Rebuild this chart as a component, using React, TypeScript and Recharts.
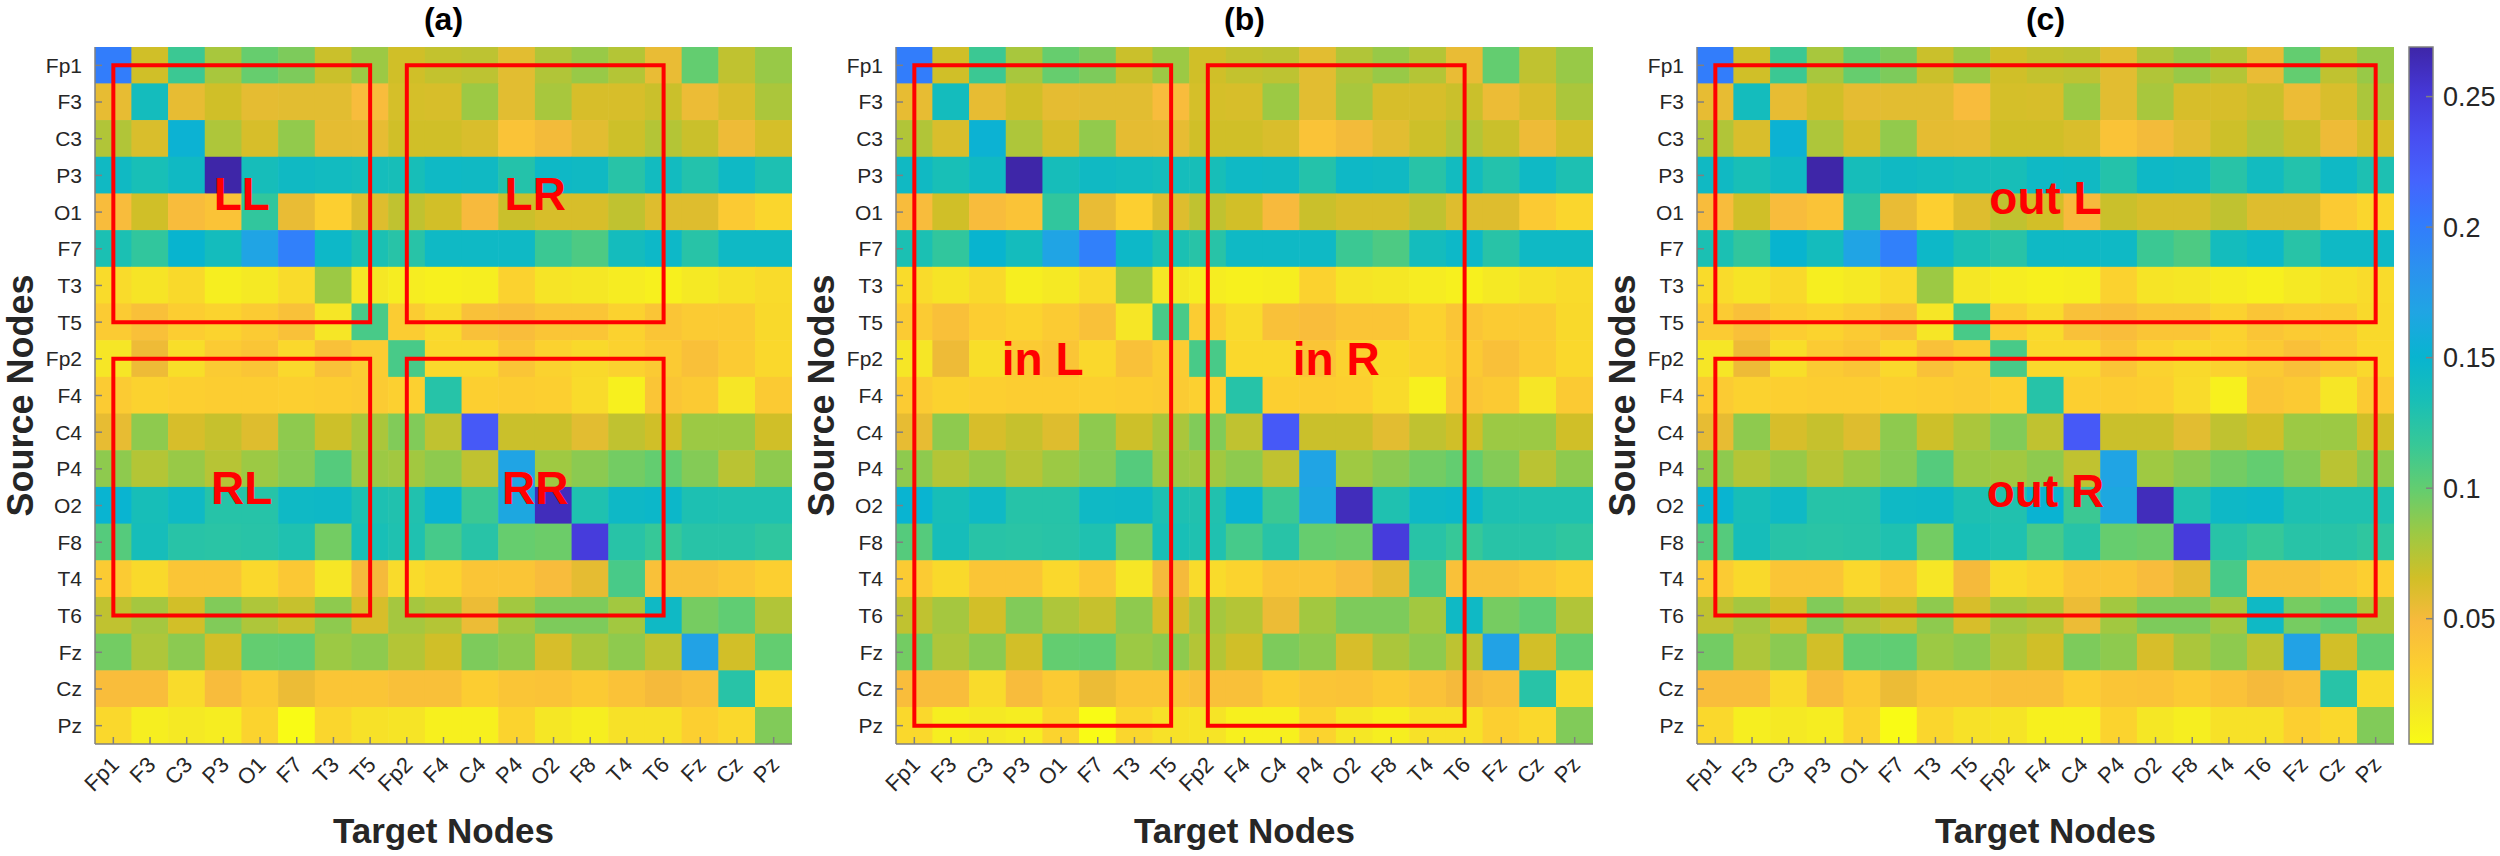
import React from 'react';
import { ScatterChart, Scatter, XAxis, YAxis, ReferenceArea, ReferenceDot } from 'recharts';

const NODES = ['Fp1', 'F3', 'C3', 'P3', 'O1', 'F7', 'T3', 'T5', 'Fp2', 'F4', 'C4', 'P4', 'O2', 'F8', 'T4', 'T6', 'Fz', 'Cz', 'Pz'];

// one row per source node, columns follow NODES (target nodes)
const rowFp1 = [0.200, 0.066, 0.115, 0.079, 0.099, 0.092, 0.068, 0.083, 0.066, 0.070, 0.072, 0.058, 0.076, 0.084, 0.075, 0.055, 0.100, 0.071, 0.084];
const rowF3 = [0.056, 0.138, 0.056, 0.066, 0.057, 0.058, 0.058, 0.047, 0.064, 0.063, 0.083, 0.058, 0.079, 0.063, 0.063, 0.068, 0.054, 0.062, 0.078];
const rowC3 = [0.076, 0.062, 0.153, 0.077, 0.063, 0.086, 0.057, 0.056, 0.066, 0.066, 0.062, 0.041, 0.051, 0.058, 0.067, 0.075, 0.068, 0.053, 0.064];
const rowP3 = [0.142, 0.134, 0.142, 0.269, 0.136, 0.142, 0.140, 0.137, 0.135, 0.143, 0.142, 0.127, 0.144, 0.142, 0.125, 0.140, 0.128, 0.143, 0.131];
const rowO1 = [0.047, 0.066, 0.047, 0.041, 0.120, 0.055, 0.032, 0.060, 0.071, 0.065, 0.049, 0.068, 0.063, 0.063, 0.071, 0.060, 0.060, 0.036, 0.027];
const rowF7 = [0.132, 0.120, 0.150, 0.138, 0.168, 0.198, 0.145, 0.132, 0.125, 0.143, 0.143, 0.143, 0.115, 0.108, 0.138, 0.145, 0.125, 0.143, 0.143];
const rowT3 = [0.024, 0.018, 0.025, 0.011, 0.015, 0.024, 0.083, 0.016, 0.012, 0.010, 0.011, 0.030, 0.018, 0.016, 0.013, 0.010, 0.015, 0.020, 0.024];
const rowT5 = [0.035, 0.044, 0.033, 0.029, 0.035, 0.043, 0.017, 0.110, 0.034, 0.024, 0.043, 0.046, 0.040, 0.040, 0.030, 0.040, 0.035, 0.035, 0.025];
const rowFp2 = [0.017, 0.053, 0.022, 0.035, 0.040, 0.026, 0.043, 0.034, 0.110, 0.026, 0.026, 0.040, 0.030, 0.025, 0.030, 0.036, 0.044, 0.035, 0.026];
const rowF4 = [0.035, 0.030, 0.032, 0.033, 0.033, 0.032, 0.033, 0.035, 0.031, 0.126, 0.032, 0.033, 0.032, 0.024, 0.010, 0.040, 0.036, 0.017, 0.036];
const rowC4 = [0.056, 0.087, 0.063, 0.069, 0.060, 0.087, 0.067, 0.078, 0.091, 0.071, 0.226, 0.068, 0.068, 0.058, 0.071, 0.066, 0.083, 0.083, 0.066];
const rowP4 = [0.087, 0.075, 0.084, 0.074, 0.083, 0.089, 0.105, 0.083, 0.081, 0.087, 0.071, 0.168, 0.082, 0.088, 0.095, 0.100, 0.090, 0.073, 0.087];
const rowO2 = [0.151, 0.135, 0.143, 0.126, 0.126, 0.143, 0.144, 0.131, 0.129, 0.152, 0.115, 0.165, 0.262, 0.130, 0.144, 0.146, 0.131, 0.130, 0.130];
const rowF8 = [0.105, 0.136, 0.125, 0.124, 0.125, 0.130, 0.095, 0.134, 0.130, 0.111, 0.125, 0.099, 0.097, 0.248, 0.125, 0.117, 0.125, 0.125, 0.121];
const rowT4 = [0.035, 0.025, 0.040, 0.040, 0.026, 0.037, 0.017, 0.050, 0.024, 0.029, 0.040, 0.040, 0.047, 0.057, 0.110, 0.043, 0.043, 0.038, 0.032];
const rowT6 = [0.071, 0.080, 0.065, 0.091, 0.077, 0.069, 0.087, 0.063, 0.080, 0.075, 0.054, 0.081, 0.092, 0.092, 0.081, 0.143, 0.094, 0.101, 0.076];
const rowFz = [0.095, 0.077, 0.088, 0.065, 0.100, 0.101, 0.083, 0.087, 0.075, 0.066, 0.092, 0.087, 0.063, 0.078, 0.087, 0.072, 0.170, 0.065, 0.100];
const rowCz = [0.046, 0.046, 0.024, 0.047, 0.036, 0.054, 0.040, 0.040, 0.044, 0.044, 0.033, 0.040, 0.041, 0.036, 0.042, 0.050, 0.044, 0.125, 0.024];
const rowPz = [0.026, 0.011, 0.015, 0.012, 0.029, 0.002, 0.027, 0.020, 0.018, 0.010, 0.010, 0.029, 0.016, 0.011, 0.020, 0.020, 0.032, 0.026, 0.091];

const ROWS = [rowFp1, rowF3, rowC3, rowP3, rowO1, rowF7, rowT3, rowT5, rowFp2, rowF4, rowC4, rowP4, rowO2, rowF8, rowT4, rowT6, rowFz, rowCz, rowPz];

const CBAR_TICKS = [0.05, 0.1, 0.15, 0.2, 0.25];
const C_MIN = 0.002;
const C_MAX = 0.269;

// boxes: [x1, x2, y1, y2] in node index units, labels: [text, x, y]
const boxesA = [[1, 8, 1, 8], [9, 16, 1, 8], [1, 8, 9, 16], [9, 16, 9, 16]];
const labelsA: [string, number, number][] = [['LL', 4.5, 4.5], ['LR', 12.5, 4.5], ['RL', 4.5, 12.5], ['RR', 12.5, 12.5]];
const boxesB = [[1, 8, 1, 19], [9, 16, 1, 19]];
const labelsB: [string, number, number][] = [['in L', 4.5, 9], ['in R', 12.5, 9]];
const boxesC = [[1, 19, 1, 8], [1, 19, 9, 16]];
const labelsC: [string, number, number][] = [['out L', 10, 4.6], ['out R', 10, 12.6]];

// flipped parula (t=0 -> high value)
const PARULA: [number, string][] = [
  [0, '#3E26A8'], [0.063, '#4537D5'], [0.127, '#484DF0'], [0.19, '#4563FD'],
  [0.254, '#327CFC'], [0.317, '#2B91EF'], [0.381, '#20A5E3'], [0.444, '#08B4D0'],
  [0.508, '#19BFB6'], [0.571, '#37C897'], [0.635, '#64CD6F'], [0.698, '#9DC943'],
  [0.762, '#D1BF27'], [0.825, '#F8BA3D'], [0.889, '#FCCF30'], [0.952, '#F5E924'],
  [1, '#F9FB15'],
];

const FONT = '"Liberation Sans", Arial, Helvetica, sans-serif';
const TEXT = '#262626';
const AXIS = '#808080';
const PLOT = 697;
const CELL = PLOT / 19;
const TICKS = NODES.map((_, i) => i + 1);

const hexRgb = (h: string) => [1, 3, 5].map((k) => parseInt(h.slice(k, k + 2), 16));

function parula(t: number) {
  const tt = Math.max(0, Math.min(1, t));
  for (let i = 1; i < PARULA.length; i++) {
    const [t1, c1] = PARULA[i];
    if (tt <= t1) {
      const [t0, c0] = PARULA[i - 1];
      const f = (tt - t0) / (t1 - t0);
      const a = hexRgb(c0);
      const b = hexRgb(c1);
      const m = a.map((v, k) => Math.round(v + (b[k] - v) * f));
      return `rgb(${m[0]},${m[1]},${m[2]})`;
    }
  }
  return PARULA[PARULA.length - 1][1];
}

const valueColor = (v: number) => parula((C_MAX - v) / (C_MAX - C_MIN));

const cells = ROWS.flatMap((row, i) => row.map((v, j) => ({ x: j + 1, y: i + 1, v })));
const cbarPoints = CBAR_TICKS.map((y) => ({ x: 0.5, y }));

const CellShape = (props: any) => {
  const { cx, cy, payload } = props;
  if (cx == null || cy == null) return null;
  return (
    <rect
      x={cx - CELL / 2 - 0.3}
      y={cy - CELL / 2 - 0.3}
      width={CELL + 0.6}
      height={CELL + 0.6}
      fill={valueColor(payload.v)}
    />
  );
};

const NoShape = () => <g />;

const XTick = (props: any) => {
  const { x, y, payload } = props;
  const px = x + 7;
  return (
    <text
      x={px}
      y={y}
      transform={`rotate(-45, ${px}, ${y})`}
      textAnchor="end"
      fontSize={22}
      fill={TEXT}
      fontFamily={FONT}
    >
      {NODES[payload.value - 1]}
    </text>
  );
};

const Panel = ({ title, boxes, labels, left }: { title: string; boxes: number[][]; labels: [string, number, number][]; left: number }) => (
  <div style={{ position: 'absolute', left, top: 0 }}>
    <ScatterChart width={801} height={856} margin={{ top: 47, right: 9, bottom: 0, left: 0 }}>
      <Scatter data={cells} dataKey="v" shape={CellShape} isAnimationActive={false} zIndex={10} />
      {/* keeps the mirrored top / right axes bound to the same data */}
      <Scatter data={cells} xAxisId="top" yAxisId="right" shape={NoShape} isAnimationActive={false} zIndex={10} />
      {boxes.map((b, i) => (
        <ReferenceArea
          key={i}
          x1={b[0]}
          x2={b[1]}
          y1={b[2]}
          y2={b[3]}
          fill="none"
          fillOpacity={0}
          stroke="#ff0000"
          strokeWidth={4}
          ifOverflow="visible"
          zIndex={700}
        />
      ))}
      {labels.map(([t, x, y]) => (
        <ReferenceDot
          key={t}
          x={x}
          y={y}
          r={0}
          fill="none"
          stroke="none"
          zIndex={750}
          label={{ value: t, position: 'center', fill: '#ff0000', fontSize: 46, fontWeight: 'bold' }}
        />
      ))}
      <ReferenceDot
        x={10}
        y={0.5}
        r={0}
        fill="none"
        stroke="none"
        ifOverflow="visible"
        zIndex={750}
        label={{ value: title, position: 'top', offset: 17, fill: '#000', fontSize: 32, fontWeight: 'bold' }}
      />
      <XAxis
        dataKey="x"
        type="number"
        domain={[0.5, 19.5]}
        allowDataOverflow
        ticks={TICKS}
        interval={0}
        height={112}
        tickSize={-7}
        tickMargin={29}
        tick={(p: any) => <XTick {...p} />}
        axisLine={{ stroke: AXIS, strokeWidth: 1.5 }}
        tickLine={{ stroke: AXIS, strokeWidth: 1.5 }}
        zIndex={800}
        label={{ value: 'Target Nodes', position: 'insideBottom', offset: 13, fontSize: 35, fontWeight: 'bold', fill: TEXT }}
      />
      <XAxis
        xAxisId="top"
        dataKey="x"
        orientation="top"
        type="number"
        domain={[0.5, 19.5]}
        allowDataOverflow
        ticks={TICKS}
        interval={0}
        height={0}
        tickSize={-7}
        tick={false}
        axisLine={{ stroke: AXIS, strokeWidth: 1.5 }}
        tickLine={{ stroke: AXIS, strokeWidth: 1.5 }}
        zIndex={800}
      />
      <YAxis
        dataKey="y"
        type="number"
        domain={[0.5, 19.5]}
        allowDataOverflow
        reversed
        ticks={TICKS}
        interval={0}
        width={95}
        tickSize={-7}
        tickMargin={20}
        tickFormatter={(v: number) => NODES[v - 1]}
        tick={{ fontSize: 21, fill: TEXT }}
        axisLine={{ stroke: AXIS, strokeWidth: 1.5 }}
        tickLine={{ stroke: AXIS, strokeWidth: 1.5 }}
        zIndex={800}
        label={{
          value: 'Source Nodes',
          angle: -90,
          position: 'insideLeft',
          offset: 20,
          fontSize: 36,
          fontWeight: 'bold',
          fill: TEXT,
          style: { textAnchor: 'middle' },
        }}
      />
      <YAxis
        yAxisId="right"
        dataKey="y"
        orientation="right"
        type="number"
        domain={[0.5, 19.5]}
        allowDataOverflow
        reversed
        ticks={TICKS}
        interval={0}
        width={0}
        tickSize={-7}
        tick={false}
        axisLine={{ stroke: AXIS, strokeWidth: 1.5 }}
        tickLine={{ stroke: AXIS, strokeWidth: 1.5 }}
        zIndex={800}
      />
    </ScatterChart>
  </div>
);

const ColorBar = () => (
  <div style={{ position: 'absolute', left: 2403, top: 0 }}>
    <ScatterChart width={97} height={856} margin={{ top: 47, right: 0, bottom: 112, left: 6 }}>
      <defs>
        <linearGradient id="parulaBar" x1="0" y1="0" x2="0" y2="1">
          {PARULA.map(([t, c]) => (
            <stop key={t} offset={t} stopColor={c} />
          ))}
        </linearGradient>
      </defs>
      <Scatter data={cbarPoints} shape={NoShape} isAnimationActive={false} />
      <XAxis dataKey="x" type="number" domain={[0, 1]} allowDataOverflow hide height={0} />
      <ReferenceArea
        x1={0}
        x2={1}
        y1={C_MIN}
        y2={C_MAX}
        fill="url(#parulaBar)"
        fillOpacity={1}
        stroke={AXIS}
        strokeWidth={1.5}
        ifOverflow="visible"
        zIndex={100}
      />
      <YAxis
        dataKey="y"
        orientation="right"
        type="number"
        domain={[C_MIN, C_MAX]}
        allowDataOverflow
        ticks={CBAR_TICKS}
        interval={0}
        width={67}
        tickSize={-7}
        tickMargin={17}
        tickFormatter={(v: number) => String(v)}
        tick={{ fontSize: 27, fill: TEXT }}
        axisLine={false}
        tickLine={{ stroke: AXIS, strokeWidth: 1.5 }}
        zIndex={800}
      />
    </ScatterChart>
  </div>
);

export default function App() {
  return (
    <div style={{ position: 'absolute', left: 0, top: 0, width: 2500, height: 856, background: '#fff', fontFamily: FONT }}>
      <Panel title="(a)" boxes={boxesA} labels={labelsA} left={0} />
      <Panel title="(b)" boxes={boxesB} labels={labelsB} left={801} />
      <Panel title="(c)" boxes={boxesC} labels={labelsC} left={1602} />
      <ColorBar />
    </div>
  );
}
